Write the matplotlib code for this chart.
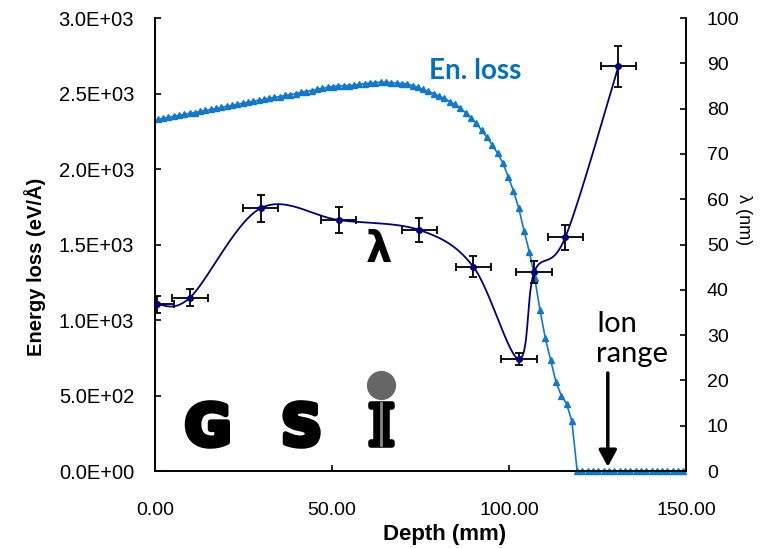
import numpy as np
import matplotlib
matplotlib.use('Agg')
import matplotlib.pyplot as plt
from matplotlib.ticker import FuncFormatter, MultipleLocator
import matplotlib.patheffects as pe

# energy loss (SRIM-like profile), depth bins of 1.5 mm
depth = [0.75 + 1.5 * k for k in range(100)]
en_loss = [2330, 2336, 2342, 2348, 2355, 2362, 2368, 2374, 2381, 2388,
           2395, 2401, 2408, 2415, 2421, 2428, 2435, 2442, 2449, 2456,
           2462, 2468, 2474, 2480, 2487, 2493, 2500, 2507, 2513, 2520,
           2527, 2534, 2540, 2546, 2550, 2552, 2553, 2556, 2561, 2566,
           2570, 2573, 2575, 2574, 2572, 2569, 2566, 2562, 2553, 2540,
           2527, 2514, 2500, 2482, 2468, 2447, 2428, 2402, 2372, 2340,
           2302, 2257, 2210, 2160, 2105, 2040, 1950, 1855, 1740, 1590,
           1450, 1280, 1065, 880, 735, 590, 500, 445, 330, 0,
           0, 0, 0, 0, 0, 0, 0, 0, 0, 0,
           0, 0, 0, 0, 0, 0, 0, 0, 0, 0]

# lambda measurements
lam_x = [0.5, 9.9, 29.8, 51.9, 74.7, 89.9, 102.8, 107.1, 115.9, 130.9]
lam_y = [36.8, 38.3, 58.0, 55.4, 53.2, 45.1, 24.7, 43.9, 51.6, 89.3]
lam_xerr = [5, 5, 5, 5, 5, 5, 5, 5, 5, 5]
lam_yerr = [1.9, 1.9, 3.0, 2.8, 2.6, 2.3, 1.3, 2.4, 2.7, 4.6]

ion_range = 127.9


def excel_smooth(xs, ys, sx=3.54, sy=4.53, n=30):
    P = np.column_stack([np.array(xs) * sx, np.array(ys) * sy])
    out = [P[0]]
    for i in range(len(P) - 1):
        p0 = P[i - 1] if i > 0 else P[i]
        p1, p2 = P[i], P[i + 1]
        p3 = P[i + 2] if i + 2 < len(P) else P[i + 1]
        c1 = p1 + (p2 - p0) / 6
        c2 = p2 - (p3 - p1) / 6
        t = np.linspace(0, 1, n)[1:, None]
        seg = ((1 - t) ** 3) * p1 + 3 * ((1 - t) ** 2) * t * c1 + 3 * (1 - t) * t ** 2 * c2 + t ** 3 * p2
        out.extend(seg)
    out = np.array(out)
    return out[:, 0] / sx, out[:, 1] / sy


fig = plt.figure(figsize=(7.61, 5.48), dpi=100)
ax = fig.add_axes([0.2037, 0.1405, 0.6978, 0.8266])
ax2 = ax.twinx()

blue = '#1079CC'
ax.plot(depth, en_loss, color=blue, lw=1.2, marker='^', ms=4, mec=blue, mfc=blue, clip_on=False, zorder=3)
ax.set_xlim(0, 150)
ax.set_ylim(0, 3000)
ax2.set_ylim(0, 100)

ax2.errorbar(lam_x, lam_y, xerr=lam_xerr, yerr=lam_yerr, fmt='none', ecolor='black',
             elinewidth=1.3, capsize=3, capthick=1.3, zorder=2)
sx_, sy_ = excel_smooth(lam_x, lam_y)
ax2.plot(sx_, sy_, color='#000080', lw=1.3, zorder=3)
ax2.plot(lam_x, lam_y, 'o', color='#000080', ms=4, zorder=4)

lab_font = 'Liberation Sans'
ax.xaxis.set_major_locator(MultipleLocator(50))
ax.yaxis.set_major_locator(MultipleLocator(500))
ax2.yaxis.set_major_locator(MultipleLocator(10))
ax.xaxis.set_major_formatter(FuncFormatter(lambda v, p: f'{v:.2f}'))
ax.yaxis.set_major_formatter(FuncFormatter(lambda v, p: f'{v:.1E}'))
ax2.yaxis.set_major_formatter(FuncFormatter(lambda v, p: f'{v:.0f}'))

for a in (ax, ax2):
    for s in a.spines.values():
        s.set_linewidth(1.2)
    a.spines['top'].set_visible(False)
ax.tick_params(axis='y', direction='in', length=4, width=1.2, pad=15, labelsize=14.5)
ax.tick_params(axis='x', direction='in', length=4, width=1.2, pad=22, labelsize=14)
ax2.tick_params(axis='y', direction='in', length=4, width=1.2, pad=15, labelsize=14)
for t in ax.get_xticklabels() + ax.get_yticklabels() + ax2.get_yticklabels():
    t.set_fontfamily(lab_font)

ax.set_xlabel('Depth (mm)', fontsize=16, fontweight='bold', family=lab_font)
ax.xaxis.set_label_coords(0.546, -0.117)
ax.set_ylabel('Energy loss (eV/Å)', fontsize=14.5, fontweight='bold', family=lab_font)
ax.yaxis.set_label_coords(-0.205, 0.45)
ax2.set_ylabel('λ (nm)', fontsize=13, family=lab_font, rotation=270)
ax2.yaxis.set_label_coords(1.125, 0.555)

ax.text(77.4, 2649, 'En. loss', color='#0070C0', fontsize=20, fontweight='bold',
        family='Lato', va='center', ha='left')
ax.text(63.3, 1464, 'λ', fontsize=30, fontweight='bold', family='DejaVu Sans',
        va='center', ha='center')
ax.text(124.6, 1060, 'Ion\nrange', fontsize=21, family='Lato', va='top', ha='left',
        linespacing=1.2)
ax.annotate('', xy=(ion_range, 28), xytext=(ion_range, 649),
            arrowprops=dict(arrowstyle='-|>,head_length=0.5,head_width=0.27',
                            lw=2.5, color='black', mutation_scale=20,
                            shrinkA=0, shrinkB=0))

# GSI logo
fat = [pe.withStroke(linewidth=4, foreground='black')]
ax.text(0.100, 0.057, 'G', transform=ax.transAxes, fontsize=41, fontweight='bold',
        family='DejaVu Sans', ha='center', va='baseline', path_effects=fat)
ax.text(0.276, 0.057, 'S', transform=ax.transAxes, fontsize=41, fontweight='bold',
        family='DejaVu Sans', ha='center', va='baseline', path_effects=fat)
ax.text(0.426, 0.057, 'I', transform=ax.transAxes, fontsize=41, fontweight='bold',
        family='DejaVu Serif', ha='center', va='baseline', path_effects=fat)
ax.plot([0.426, 0.426], [0.057, 0.150], transform=ax.transAxes, color='#888888', lw=2,
        zorder=10)
ax.plot([0.426], [0.190], transform=ax.transAxes, marker='o', ms=20, color='#666666',
        clip_on=False)

fig.savefig('out.png', dpi=100)
